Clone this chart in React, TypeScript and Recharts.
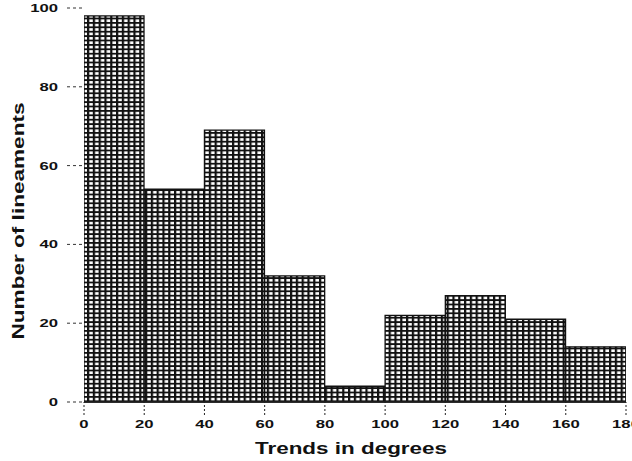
import { BarChart, Bar, XAxis, YAxis } from 'recharts'

// bin centres (degrees) and counts
const binCentres = [10, 30, 50, 70, 90, 110, 130, 150, 170]
const counts = [98, 54, 69, 32, 4, 22, 27, 21, 14]
const xTicks = [0, 20, 40, 60, 80, 100, 120, 140, 160, 180]
const xMinorTicks = [10, 30, 50, 70, 90, 110, 130, 150, 170]
const yTicks = [0, 20, 40, 60, 80, 100]
const yMinorTicks = [10, 30, 50, 70, 90]

const xTitle = 'Trends in degrees'
const yTitle = 'Number of lineaments'

const data = binCentres.map((c, i) => ({ trend: c, count: counts[i] }))

const font = '"Liberation Sans", Arial, sans-serif'

// tick labels in the scan are stretched sideways, so widen the glyphs a bit
const XTick = (props: any) => {
    const { x, y, payload } = props
    return (
        <g transform={`translate(${x},${y + 11}) scale(1.45,1)`}>
            <text textAnchor="middle" fill="#111" fontSize={11.5} fontWeight={700} fontFamily={font}>
                {payload.value}
            </text>
        </g>
    )
}

const YTick = (props: any) => {
    const { x, y, payload } = props
    return (
        <g transform={`translate(${x},${y + 4}) scale(1.45,1)`}>
            <text textAnchor="end" fill="#111" fontSize={11.5} fontWeight={700} fontFamily={font}>
                {payload.value}
            </text>
        </g>
    )
}

const XTitle = (props: any) => {
    const vb = props.viewBox || {}
    const cx = vb.x + vb.width / 2 - 4
    return (
        <text
            x={cx}
            y={vb.y + vb.height - 7}
            textAnchor="middle"
            textLength={192}
            lengthAdjust="spacingAndGlyphs"
            fill="#111"
            fontSize={17}
            fontWeight={700}
            fontFamily={font}
        >
            {xTitle}
        </text>
    )
}

const YTitle = () => (
    <text
        x={0}
        y={0}
        transform="translate(24,221) rotate(-90)"
        textAnchor="middle"
        textLength={237}
        lengthAdjust="spacingAndGlyphs"
        fill="#111"
        fontSize={16}
        fontWeight={700}
        fontFamily={font}
    >
        {yTitle}
    </text>
)

export default function App() {
    return (
        <div style={{ position: 'absolute', left: 0, top: 0, background: '#fff' }}>
            <BarChart
                width={632}
                height={461}
                data={data}
                margin={{ top: 8, right: 6, bottom: 0, left: 0 }}
                barCategoryGap={0}
                barGap={0}
            >
                <defs>
                    <pattern id="hatch" x="0" y="0" width="5.8" height="4.4" patternUnits="userSpaceOnUse">
                        <rect width="5.8" height="4.4" fill="#fff" />
                        <line x1="1.1" y1="0" x2="1.1" y2="4.4" stroke="#111" strokeWidth={2.3} />
                        <line x1="0" y1="0.9" x2="5.8" y2="0.9" stroke="#111" strokeWidth={1.8} />
                    </pattern>
                </defs>
                <XAxis
                    dataKey="trend"
                    type="number"
                    domain={[0, 180]}
                    ticks={xTicks}
                    interval={0}
                    allowDataOverflow
                    tickSize={13}
                    tickLine={{ stroke: '#222', strokeDasharray: '2 2' }}
                    axisLine={{ stroke: '#222', strokeWidth: 1.5 }}
                    tick={<XTick />}
                    height={59}
                    label={<XTitle />}
                />
                <XAxis
                    xAxisId="minor"
                    dataKey="trend"
                    type="number"
                    domain={[0, 180]}
                    ticks={xMinorTicks}
                    interval={0}
                    axisLine={false}
                    tickSize={5}
                    tickLine={{ stroke: '#222' }}
                    tick={false}
                    height={0}
                />
                <YAxis
                    type="number"
                    domain={[0, 100]}
                    ticks={yTicks}
                    interval={0}
                    width={84}
                    axisLine={false}
                    tickSize={17}
                    tickMargin={9}
                    tickLine={{ stroke: '#333', strokeDasharray: '3 3' }}
                    tick={<YTick />}
                    label={<YTitle />}
                />
                <YAxis
                    yAxisId="minor"
                    type="number"
                    domain={[0, 100]}
                    ticks={yMinorTicks}
                    interval={0}
                    width={0}
                    axisLine={false}
                    tickSize={5}
                    tickLine={{ stroke: '#555' }}
                    tick={false}
                />
                <Bar
                    dataKey="count"
                    fill="url(#hatch)"
                    stroke="#111"
                    strokeWidth={1.3}
                    isAnimationActive={false}
                />
            </BarChart>
        </div>
    )
}
